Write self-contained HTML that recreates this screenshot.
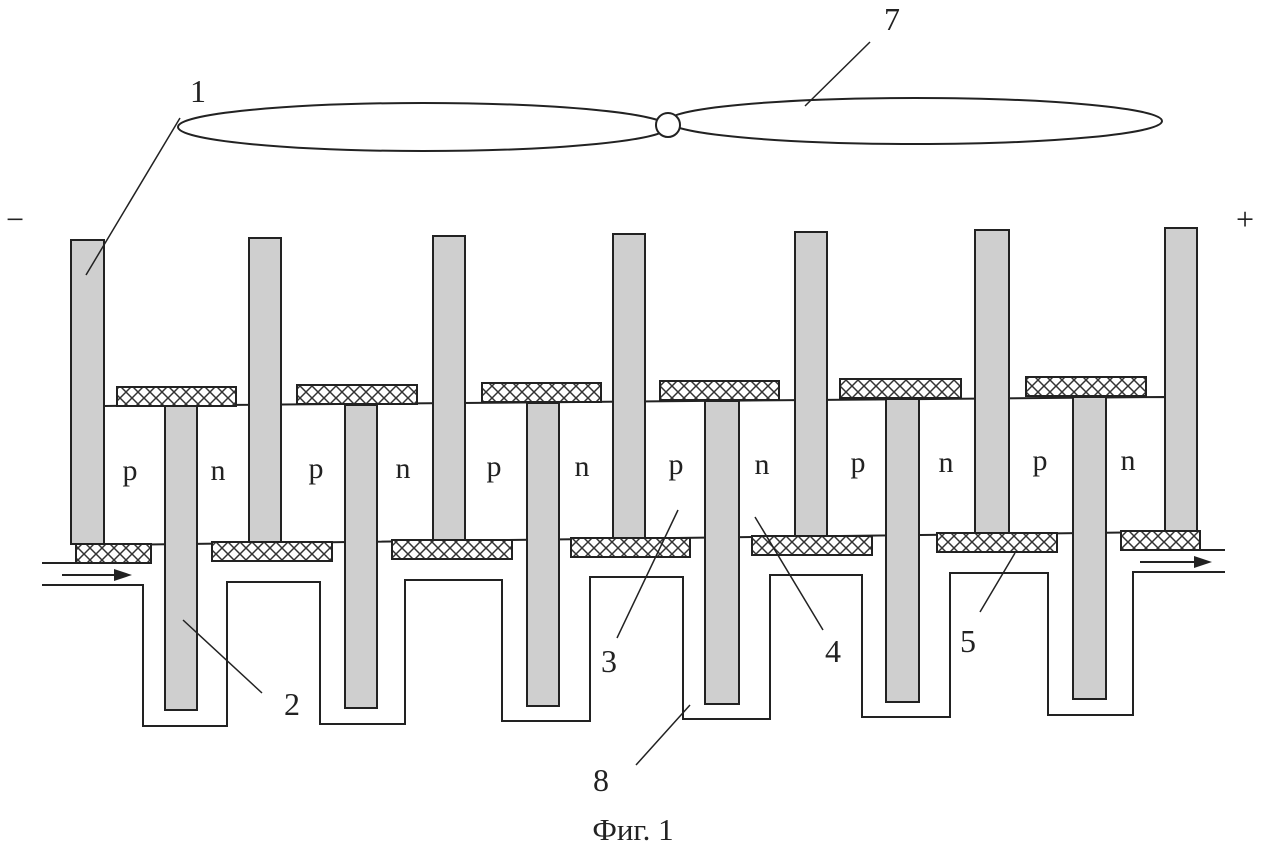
<!DOCTYPE html>
<html><head><meta charset="utf-8"><style>html,body{margin:0;padding:0;background:#fff}svg{display:block}text{font-family:"Liberation Serif","Times New Roman",serif}</style></head>
<body>
<svg width="1262" height="846" viewBox="0 0 1262 846" xmlns="http://www.w3.org/2000/svg" fill="none" stroke="#222" stroke-width="2">
<defs>
<pattern id="hx" width="12" height="12" patternUnits="userSpaceOnUse" x="0" y="2">
<rect width="12" height="12" fill="#fff" stroke="none"/>
<path d="M0 0L12 12M12 0L0 12" stroke="#333" stroke-width="1.5"/>
</pattern>
</defs>
<!-- propeller -->
<ellipse cx="423" cy="127" rx="245" ry="24"/>
<ellipse cx="915" cy="121" rx="247" ry="23"/>
<circle cx="668" cy="125" r="12" fill="#fff"/>
<!-- block lines -->
<polygon points="104,406 1165,397 1165,532 104,545" fill="#fff"/>
<!-- channel -->
<polyline points="42,563 76,563"/>
<polyline points="42,585 143,585 143,726 227,726 227,582 320,582 320,724 405,724 405,580 502,580 502,721 590,721 590,577 683,577 683,719 770,719 770,575 862,575 862,717 950,717 950,573 1048,573 1048,715 1133,715 1133,572 1225,572"/>
<polyline points="1200,550 1225,550"/>
<!-- arrows -->
<line x1="62" y1="575" x2="118" y2="575"/><polygon points="132,575 114,569 114,581" fill="#222" stroke="none"/>
<line x1="1140" y1="562" x2="1198" y2="562"/><polygon points="1212,562 1194,556 1194,568" fill="#222" stroke="none"/>
<g fill="#cfcfcf">
<rect x="71" y="240" width="33" height="304"/>
<rect x="249" y="238" width="32" height="304"/>
<rect x="433" y="236" width="32" height="304"/>
<rect x="613" y="234" width="32" height="304"/>
<rect x="795" y="232" width="32" height="304"/>
<rect x="975" y="230" width="34" height="303"/>
<rect x="1165" y="228" width="32" height="303"/>
<rect x="165" y="406" width="32" height="304"/>
<rect x="345" y="405" width="32" height="303"/>
<rect x="527" y="403" width="32" height="303"/>
<rect x="705" y="401" width="34" height="303"/>
<rect x="886" y="399" width="33" height="303"/>
<rect x="1073" y="397" width="33" height="302"/>
</g>
<g fill="url(#hx)">
<rect x="117" y="387" width="119" height="19"/>
<rect x="297" y="385" width="120" height="19"/>
<rect x="482" y="383" width="119" height="19"/>
<rect x="660" y="381" width="119" height="19"/>
<rect x="840" y="379" width="121" height="19"/>
<rect x="1026" y="377" width="120" height="19"/>
<rect x="76" y="544" width="75" height="19"/>
<rect x="212" y="542" width="120" height="19"/>
<rect x="392" y="540" width="120" height="19"/>
<rect x="571" y="538" width="119" height="19"/>
<rect x="752" y="536" width="120" height="19"/>
<rect x="937" y="533" width="120" height="19"/>
<rect x="1121" y="531" width="79" height="19"/>
</g>
<g stroke-width="1.5">
<line x1="180" y1="118" x2="86" y2="275"/>
<line x1="870" y1="42" x2="805" y2="106"/>
<line x1="183" y1="620" x2="262" y2="693"/>
<line x1="678" y1="510" x2="617" y2="638"/>
<line x1="755" y1="517" x2="823" y2="630"/>
<line x1="1015" y1="553" x2="980" y2="612"/>
<line x1="690" y1="705" x2="636" y2="765"/>
</g>
<g fill="#222" stroke="none" font-size="32" text-anchor="middle">
<text x="198" y="102">1</text>
<text x="892" y="30">7</text>
<text x="292" y="715">2</text>
<text x="609" y="672">3</text>
<text x="833" y="662">4</text>
<text x="968" y="652">5</text>
<text x="601" y="791">8</text>
<text x="15" y="230">−</text>
<text x="1245" y="230">+</text>
<g font-size="30">
<text x="130" y="480">p</text><text x="218" y="480">n</text>
<text x="316" y="478">p</text><text x="403" y="478">n</text>
<text x="494" y="476">p</text><text x="582" y="476">n</text>
<text x="676" y="474">p</text><text x="762" y="474">n</text>
<text x="858" y="472">p</text><text x="946" y="472">n</text>
<text x="1040" y="470">p</text><text x="1128" y="470">n</text>
</g>
<text x="633" y="840" font-size="31">Фиг. 1</text>
</g>
</svg>
</body></html>
